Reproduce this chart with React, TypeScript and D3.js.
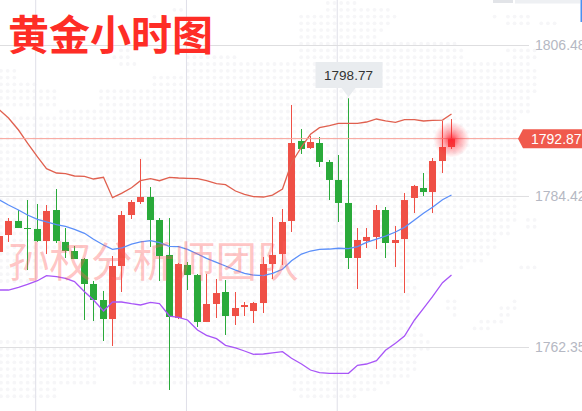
import React, { useEffect, useRef } from 'react';
import * as d3 from 'd3';

const width = 582;
const height = 411;

const opens = [1776.31, 1778.79, 1780.84, 1779.81, 1779.67, 1777.91, 1782.44, 1777.77, 1776.45, 1775.28, 1771.63, 1769.29, 1766.51, 1774.26, 1781.71, 1783.61, 1784.34, 1780.98, 1775.87, 1766.66, 1774.41, 1772.94, 1766.08, 1768.71, 1770.46, 1766.95, 1768.27, 1767.68, 1768.85, 1774.55, 1776.01, 1780.84, 1792.53, 1791.5, 1792.23, 1789.46, 1786.83, 1783.47, 1775.43, 1777.91, 1778.5, 1782.44, 1777.62, 1778.2, 1784.2, 1785.66, 1785.07, 1789.6, 1791.65];
const closes = [1778.64, 1780.84, 1779.81, 1779.67, 1777.91, 1782.3, 1777.91, 1776.45, 1775.28, 1771.63, 1769.29, 1766.51, 1774.26, 1781.71, 1783.61, 1784.34, 1780.98, 1775.72, 1766.81, 1774.55, 1772.94, 1766.08, 1768.71, 1770.31, 1766.95, 1768.12, 1768.56, 1768.85, 1774.55, 1775.87, 1780.69, 1792.23, 1791.36, 1792.38, 1789.46, 1786.83, 1783.47, 1775.43, 1778.06, 1778.5, 1782.44, 1777.62, 1778.06, 1783.9, 1785.95, 1785.07, 1789.6, 1791.65, 1792.87];
const highs = [1778.79, 1781.27, 1782.44, 1783.9, 1783.32, 1783.17, 1785.51, 1779.81, 1777.18, 1775.43, 1772.07, 1770.61, 1775.72, 1782.3, 1783.9, 1789.9, 1785.8, 1781.27, 1781.27, 1774.7, 1774.84, 1773.09, 1773.09, 1772.36, 1772.21, 1770.46, 1769.0, 1769.0, 1775.57, 1781.42, 1782.59, 1797.79, 1794.28, 1793.26, 1793.11, 1789.75, 1790.48, 1798.77, 1779.81, 1779.81, 1783.17, 1782.88, 1780.1, 1784.93, 1786.1, 1787.85, 1790.04, 1795.45, 1795.74];
const lows = [1776.01, 1777.77, 1779.81, 1773.67, 1777.77, 1776.01, 1777.62, 1775.43, 1775.28, 1766.37, 1766.22, 1763.3, 1762.57, 1770.46, 1781.13, 1783.32, 1777.04, 1772.07, 1756.14, 1766.51, 1770.75, 1765.35, 1766.08, 1766.66, 1764.18, 1765.64, 1766.95, 1765.93, 1767.39, 1772.36, 1774.41, 1779.23, 1790.63, 1791.36, 1788.73, 1783.9, 1780.69, 1773.82, 1770.9, 1776.89, 1776.74, 1775.43, 1774.11, 1770.31, 1782.0, 1784.49, 1782.0, 1787.85, 1791.36];

const upperBand = [1797.06, 1795.89, 1794.13, 1792.23, 1790.19, 1788.48, 1787.85, 1787.75, 1787.41, 1787.37, 1786.97, 1787.22, 1784.24, 1784.88, 1785.7, 1786.72, 1787.02, 1786.72, 1787.22, 1787.12, 1787.07, 1787.02, 1786.72, 1786.29, 1786.14, 1785.22, 1784.74, 1784.39, 1784.34, 1784.63, 1785.51, 1789.31, 1791.65, 1793.5, 1794.47, 1794.76, 1795.11, 1795.11, 1795.11, 1795.3, 1795.74, 1795.45, 1795.26, 1795.64, 1795.64, 1795.45, 1795.55, 1795.59, 1796.47];
const middleBand = [1783.9, 1783.17, 1782.44, 1781.71, 1781.08, 1780.69, 1780.29, 1780.06, 1779.62, 1779.04, 1778.16, 1777.33, 1776.7, 1776.89, 1777.47, 1777.77, 1777.96, 1777.66, 1777.14, 1777.08, 1776.7, 1776.01, 1775.38, 1774.8, 1774.26, 1773.67, 1773.19, 1772.94, 1772.84, 1773.19, 1773.78, 1775.03, 1776.01, 1776.45, 1776.7, 1776.74, 1776.85, 1776.79, 1777.08, 1777.72, 1778.2, 1778.64, 1779.23, 1779.91, 1780.98, 1781.96, 1782.84, 1783.95, 1784.63];
const lowerBand = [1770.75, 1770.75, 1771.15, 1771.59, 1772.11, 1772.84, 1772.7, 1772.46, 1771.97, 1770.5, 1769.29, 1767.68, 1769.0, 1769.0, 1768.75, 1768.56, 1768.95, 1768.75, 1766.95, 1766.76, 1766.37, 1764.91, 1764.13, 1763.64, 1762.67, 1762.28, 1761.84, 1761.36, 1761.4, 1761.55, 1761.74, 1760.77, 1759.94, 1759.06, 1758.67, 1758.58, 1758.58, 1758.58, 1759.75, 1759.94, 1760.42, 1761.94, 1762.96, 1764.03, 1766.37, 1768.08, 1769.77, 1771.82, 1772.94];

const gridPrices = [1806.48, 1784.42, 1762.35];
const lastPrice = 1792.87;
const peakPrice = 1798.77;
const title = '黄金小时图';
const watermark = '孙权分析师团队';

// rough outline of the dotted world map behind the chart, one row per entry
const mapRows: number[][][] = [
  [[325, 360]], [[170, 183], [325, 390]], [[150, 157], [300, 395], [490, 500], [505, 530]],
  [[300, 390], [505, 530], [540, 560]], [[300, 385]], [[300, 380]], [[300, 460]],
  [[115, 133], [300, 465], [505, 535]], [[110, 133], [183, 240], [300, 465], [510, 535]],
  [[120, 135], [183, 530]], [[0, 20], [183, 540]], [[0, 20], [150, 540]], [[0, 40], [150, 540]],
  [[0, 60], [100, 540]], [[0, 60], [100, 530]], [[0, 60], [100, 530]], [[60, 530]],
  [[0, 520]], [[0, 520]], [[0, 520]], [[0, 520]], [[0, 520]], [[0, 520]], [[0, 520]],
  [[0, 520]], [[0, 520]], [[0, 520]], [[0, 515]], [[0, 515]], [[0, 515]], [[0, 515]],
  [[0, 515]], [[0, 515], [525, 540]], [[0, 510], [525, 535]], [[0, 510]], [[0, 500]], [[0, 495]],
  [[0, 45], [100, 490]], [[0, 45], [100, 485]], [[0, 45], [100, 465], [520, 535]],
  [[0, 30], [100, 440]], [[0, 30], [100, 412]], [[40, 415], [450, 452]], [[40, 415]],
  [[40, 410], [445, 455], [510, 520]], [[40, 410], [445, 460], [497, 517]],
  [[40, 420], [450, 460], [495, 510]], [[40, 415], [450, 452], [480, 505]],
  [[40, 420], [468, 490]], [[40, 425]], [[0, 430]], [[0, 100], [130, 430]], [[0, 100], [130, 420]],
  [[0, 100], [130, 415]], [[0, 100], [130, 240], [290, 415]], [[0, 100], [130, 240], [290, 410], [428, 430]],
  [[0, 100], [130, 230], [290, 390]], [[0, 60], [290, 380]], [[0, 60], [300, 360]],
];

const App: React.FC = () => {
  const svgRef = useRef<SVGSVGElement | null>(null);

  useEffect(() => {
    const svg = d3.select(svgRef.current);
    svg.selectAll('*').remove();
    svg.attr('width', width).attr('height', height);

    const index = opens.map((d, i) => i);
    const x = d3.scaleBand<number>()
      .domain(index)
      .range([-5.71, 456.01])
      .paddingInner(0.26)
      .paddingOuter(0.13);
    const y = d3.scaleLinear().domain([1762.35, 1806.48]).range([347.5, 45.5]);
    const cx = (i: number) => Math.round((x(i) as number) + x.bandwidth() / 2);

    // Map dots.
    const dots: [number, number][] = [];
    mapRows.forEach((spans, r) => {
      spans.forEach(([a, b]) => {
        d3.range(Math.ceil(a / 6.67), Math.floor(b / 6.67) + 1).forEach(k => dots.push([k * 6.67 + 1, 3 + r * 6.78]));
      });
    });
    svg.append('g')
      .selectAll('circle')
      .data(dots)
      .enter()
      .append('circle')
      .attr('cx', d => d[0])
      .attr('cy', d => d[1])
      .attr('r', 1.9)
      .attr('fill', '#f6f6f8');

    // Vertical grid, every 16 candles.
    svg.append('g')
      .selectAll('line')
      .data([4, 20, 36])
      .enter()
      .append('line')
      .attr('x1', d => (x(d) as number) + x.bandwidth() / 2 - 1)
      .attr('x2', d => (x(d) as number) + x.bandwidth() / 2 - 1)
      .attr('y1', 0)
      .attr('y2', height)
      .attr('stroke', '#dfdfe8');

    // Price axis.
    const axis = svg.append('g')
      .attr('transform', 'translate(529,0)')
      .call(d3.axisRight(y).tickValues(gridPrices).tickFormat(d => (d as number).toFixed(2)).tickSize(-529).tickPadding(6).offset(0));
    axis.select('.domain').remove();
    axis.selectAll('line').attr('stroke', '#dedee0');
    axis.selectAll('text')
      .attr('fill', '#b5b8c3')
      .attr('font-family', 'Liberation Sans')
      .attr('font-size', 14);

    // Title.
    svg.append('text')
      .attr('x', 8)
      .attr('y', 50)
      .attr('font-family', 'Noto Sans CJK SC')
      .attr('font-weight', 700)
      .attr('font-size', 41)
      .attr('fill', '#fe2d26')
      .text(title);

    // Candles.
    const candles = svg.append('g')
      .selectAll('g')
      .data(index)
      .enter()
      .append('g')
      .attr('fill', i => (closes[i] >= opens[i] ? '#ef5046' : '#2aaa3a'));
    candles.append('rect')
      .attr('x', i => cx(i))
      .attr('width', 1)
      .attr('y', i => y(highs[i]))
      .attr('height', i => y(lows[i]) - y(highs[i]));
    candles.append('rect')
      .attr('x', i => cx(i) - 3)
      .attr('width', 7)
      .attr('y', i => y(Math.max(opens[i], closes[i])))
      .attr('height', i => Math.max(1, Math.abs(y(opens[i]) - y(closes[i]))));

    // Bands.
    const line = d3.line<number>()
      .x((d, i) => cx(i) + 0.5)
      .y(d => y(d));
    [
      { values: upperBand, color: '#e0604f' },
      { values: middleBand, color: '#5b8ff9' },
      { values: lowerBand, color: '#a855f7' },
    ].forEach(band => {
      svg.append('path')
        .attr('d', line(band.values))
        .attr('fill', 'none')
        .attr('stroke', band.color)
        .attr('stroke-width', 1.3);
    });

    // Last price line, tag and pulse.
    const lastY = y(lastPrice);
    const lastX = cx(index.length - 1) + 0.5;
    const gradient = svg.append('defs').append('radialGradient').attr('id', 'pulse');
    gradient.append('stop').attr('offset', '0%').attr('stop-color', '#ff1f2d').attr('stop-opacity', 0.9);
    gradient.append('stop').attr('offset', '45%').attr('stop-color', '#ff1f2d').attr('stop-opacity', 0.4);
    gradient.append('stop').attr('offset', '100%').attr('stop-color', '#ff1f2d').attr('stop-opacity', 0);
    svg.append('line')
      .attr('x1', 0)
      .attr('x2', 520)
      .attr('y1', lastY)
      .attr('y2', lastY)
      .attr('stroke', '#f8a097');
    svg.append('circle')
      .attr('cx', lastX)
      .attr('cy', lastY + 1)
      .attr('r', 18)
      .attr('fill', 'url(#pulse)');
    svg.append('path')
      .attr('d', `M518,${lastY}L523,${lastY - 9.5}H582V${lastY + 9.5}H523Z`)
      .attr('fill', '#f05a4d');
    svg.append('text')
      .attr('x', 531)
      .attr('y', lastY + 5)
      .attr('font-family', 'Liberation Sans')
      .attr('font-size', 14)
      .attr('fill', '#fff')
      .text(lastPrice.toFixed(2));

    // Tooltip on the highest candle.
    const peakI = highs.indexOf(peakPrice);
    const peakX = cx(peakI) + 0.5;
    svg.append('path')
      .attr('d', `M${peakX - 33},62H${peakX + 34}V88H${peakX + 7}L${peakX},97L${peakX - 7},88H${peakX - 33}Z`)
      .attr('fill', '#e9ecef');
    svg.append('text')
      .attr('x', peakX)
      .attr('y', 80)
      .attr('text-anchor', 'middle')
      .attr('font-family', 'Liberation Sans')
      .attr('font-size', 13.5)
      .attr('fill', '#333')
      .text(peakPrice.toFixed(2));

    // Watermark.
    svg.append('text')
      .attr('x', 8)
      .attr('y', 277)
      .attr('font-family', 'Noto Sans CJK SC')
      .attr('font-weight', 400)
      .attr('font-size', 41.5)
      .attr('fill', 'rgba(255,90,90,0.36)')
      .text(watermark);

    // Cropped toolbar at the top edge.
    svg.append('rect').attr('x', 493).attr('y', 0).attr('width', 20).attr('height', 3).attr('fill', '#e2e4e8');
    svg.append('rect').attr('x', 515).attr('y', 0).attr('width', 65).attr('height', 3.5).attr('fill', '#eef0f3');
    svg.append('rect').attr('x', 580.5).attr('y', 0).attr('width', 1.5).attr('height', 22).attr('fill', '#4a90f0');
  }, []);

  return (
    <>
      <svg ref={svgRef} style={{ position: 'absolute', left: 0, top: 0, background: '#fff' }}></svg>
    </>
  );
};

export default App;
